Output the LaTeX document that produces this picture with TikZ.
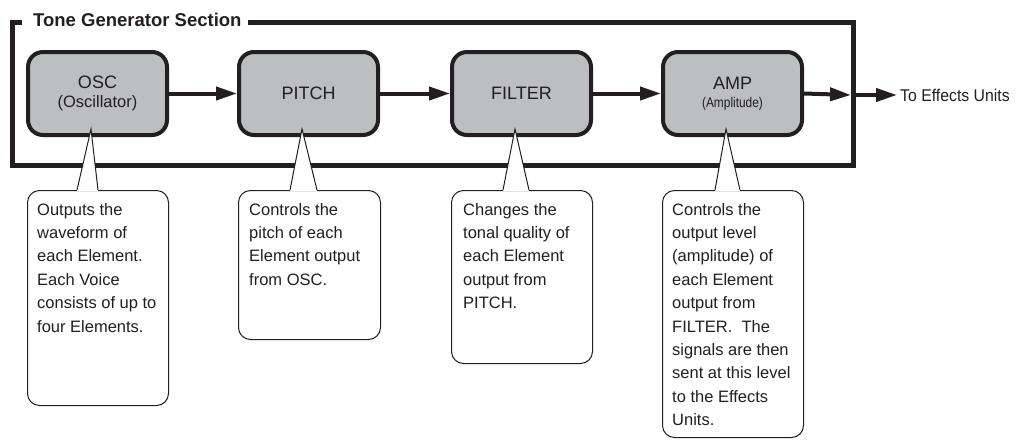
\documentclass[tikz,border=0pt]{standalone}
\usepackage{fontspec}
\setmainfont{Liberation Sans}
\usetikzlibrary{arrows.meta,calc}
\definecolor{ink}{HTML}{231F20}
\definecolor{boxgray}{HTML}{BCBEC0}
\begin{document}
\begin{tikzpicture}[x=1pt,y=-1pt,
  blk/.style={draw=ink,line width=4pt,fill=boxgray,rounded corners=15pt,
    minimum width=139pt,minimum height=83pt,inner sep=0pt,text=ink,align=center,
    font=\fontsize{18}{20}\selectfont},
  arr/.style={draw=ink,line width=4pt,-{Triangle[length=21pt,width=13pt]}},
  frame/.style={draw=ink,line width=5pt},
  callout/.style={draw=ink,line width=1pt,rounded corners=12pt,fill=white,inner sep=0pt},
  ctext/.style={anchor=north west,align=left,inner sep=0pt,text=ink,
    font=\fontsize{16.5}{23.4}\selectfont},
  ptr/.style={draw=ink,line width=1pt,line join=miter}
]
\useasboundingbox (0,0) rectangle (1019,439);
% frame
\node[anchor=base west,inner sep=0pt,text=ink,font=\fontsize{18.5}{20}\selectfont\bfseries] (title) at (33,27) {Tone Generator Section};
\coordinate (fr) at (853,95);
\draw[frame] (22,22) -- (12,22) -- (12,165) -- (853,165) -- (853,22) -- (248,22);
% boxes
\node[blk] (osc) at (97.5,93.5) {OSC\\[-1pt]{\fontsize{16.5}{18}\selectfont (Oscillator)}};
\node[blk] (pitch) at (308.5,93.5) {PITCH};
\node[blk] (filter) at (521.5,93.5) {FILTER};
\node[blk] (amp) at (732.5,93.5) {AMP\\[-2pt]{\fontsize{14}{16}\selectfont\scalebox{0.85}[1]{(Amplitude)}}};
% arrows
\draw[arr] (osc.east) -- (pitch.west);
\draw[arr] (pitch.east) -- (filter.west);
\draw[arr] (filter.east) -- (amp.west);
\draw[arr] (amp.east) -- ($(fr)+(-2,0)$);
\coordinate (outend) at (897,95);
\draw[arr] (fr) -- (outend);
\node[anchor=west,inner sep=0pt,text=ink,font=\fontsize{17}{20}\selectfont] (out) at (900,95) {\scalebox{0.93}[1]{To Effects Units}};
% callouts
\node[callout,minimum width=141pt,minimum height=215pt,anchor=north west] (c1) at (27,190) {};
\node[callout,minimum width=142pt,minimum height=149pt,anchor=north west] (c2) at (238,190) {};
\node[callout,minimum width=141pt,minimum height=173pt,anchor=north west] (c3) at (451,190) {};
\node[callout,minimum width=141pt,minimum height=247pt,anchor=north west] (c4) at (662,190) {};
% pointers
\foreach \c/\a/\b/\p in {c1/77/98/91, c2/290/317/302, c3/503/529/515, c4/715/740/726}{
  \fill[white] (\a,190.8) -- (\p,129) -- (\b,190.8) -- cycle;
  \draw[ptr] (\a,190) -- (\p,129) -- (\b,190);
}
% callout texts
\node[ctext] (t1) at (37,203) {Outputs the\\waveform of\\each Element.\\Each Voice\\consists of up to\\four Elements.};
\node[ctext] (t2) at (249,203) {Controls the\\pitch of each\\Element output\\from OSC.};
\node[ctext] (t3) at (463,203) {Changes the\\tonal quality of\\each Element\\output from\\PITCH.};
\node[ctext] (t4) at (672,203) {Controls the\\output level\\(amplitude) of\\each Element\\output from\\FILTER.\ \ The\\signals are then\\sent at this level\\to the Effects\\Units.};
\end{tikzpicture}
\end{document}
